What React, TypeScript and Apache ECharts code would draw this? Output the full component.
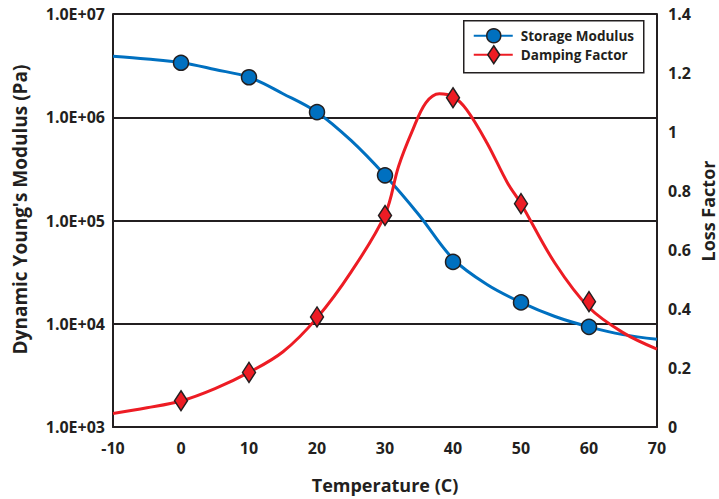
import React, { useEffect, useRef } from "react";
import * as echarts from "echarts";

// Measured points (markers)
const markerTemps = [0, 10, 20, 30, 40, 50, 60];
const storageModulus = [3.37e6, 2.44e6, 1.12e6, 2.74e5, 3.97e4, 1.61e4, 9.33e3];
const dampingFactor = [0.089, 0.185, 0.373, 0.717, 1.116, 0.757, 0.425];

// Fitted curves
const modulusCurveTemps = [-10, -5, 0, 5, 10, 15, 20, 25, 30, 35, 40, 45, 50, 55, 60, 65, 70];
const modulusCurve = [3.9e6, 3.67e6, 3.39e6, 2.9e6, 2.44e6, 1.69e6, 1.12e6, 5.96e5, 2.74e5, 1.13e5, 4.25e4, 2.4e4, 1.61e4, 1.175e4, 9.33e3, 7.85e3, 7.08e3];
const dampingCurveTemps = [-10, -5, 0, 5, 10, 15, 20, 25, 30, 32, 34, 36, 38, 40, 42, 45, 48, 50, 55, 60, 65, 70];
const dampingCurve = [0.046, 0.065, 0.088, 0.13, 0.185, 0.255, 0.37, 0.525, 0.72, 0.884, 1.003, 1.099, 1.13, 1.12, 1.076, 0.963, 0.828, 0.757, 0.555, 0.405, 0.32, 0.264];

const modulusTickLabels = ["1.0E+03", "1.0E+04", "1.0E+05", "1.0E+06", "1.0E+07"];

const INK = "#231f20";
const BLUE = "#0070c0";
const RED = "#ed1c24";
const FONT = "Open Sans";

export default function App() {
  const ref = useRef<HTMLDivElement>(null);
  useEffect(() => {
    if (!ref.current) return;
    const chart = echarts.init(ref.current, null, { renderer: "svg" });
    const labelStyle = { color: INK, fontFamily: FONT, fontWeight: "bold" as const, fontSize: 16 };
    const titleStyle = { ...labelStyle, fontSize: 18 };
    chart.setOption({
      animation: false,
      backgroundColor: "#ffffff",
      grid: { left: 113, right: 62, top: 14, bottom: 71, containLabel: false },
      xAxis: {
        type: "value",
        min: -10,
        max: 70,
        interval: 10,
        axisLine: { show: true, onZero: false, lineStyle: { color: INK, width: 2 } },
        axisTick: { show: false },
        splitLine: { show: false },
        axisLabel: { ...labelStyle, margin: 13 },
        name: "Temperature (C)",
        nameLocation: "middle",
        nameGap: 49,
        nameTextStyle: { ...titleStyle },
      },
      yAxis: [
        {
          type: "log",
          logBase: 10,
          min: 1e3,
          max: 1e7,
          axisLine: { show: true, onZero: false, lineStyle: { color: INK, width: 2 } },
          axisTick: { show: false },
          splitLine: { show: true, lineStyle: { color: INK, width: 2 } },
          axisLabel: {
            ...labelStyle,
            margin: 8,
            formatter: (v: number) => modulusTickLabels[Math.round(Math.log10(v)) - 3] ?? "",
          },
          name: "Dynamic Young's Modulus (Pa)",
          nameLocation: "middle",
          nameGap: 84,
          nameRotate: 90,
          nameTextStyle: { ...titleStyle, fontSize: 19, padding: [0, 0, 0, 22] },
        },
        {
          type: "value",
          position: "right",
          min: 0,
          max: 1.4,
          interval: 0.2,
          axisLine: { show: true, onZero: false, lineStyle: { color: INK, width: 2 } },
          axisTick: { show: false },
          splitLine: { show: false },
          axisLabel: { ...labelStyle, margin: 11 },
        },
      ],
      graphic: [
        {
          type: "text",
          x: 708,
          y: 211,
          rotation: Math.PI / 2,
          style: { text: "Loss Factor", ...titleStyle, fill: INK, align: "center", verticalAlign: "middle" },
        },
        {
          type: "group",
          left: 463,
          top: 20,
          children: [
            { type: "rect", shape: { x: 0, y: 0, width: 180, height: 52 }, style: { fill: "#fff", stroke: INK, lineWidth: 1.5 } },
            { type: "line", shape: { x1: 10, y1: 15, x2: 49, y2: 15 }, style: { stroke: BLUE, lineWidth: 2 } },
            { type: "circle", shape: { cx: 30, cy: 15, r: 7 }, style: { fill: BLUE, stroke: INK, lineWidth: 1.5 } },
            { type: "text", x: 57, y: 15, style: { text: "Storage Modulus", fill: INK, fontFamily: FONT, fontWeight: "bold", fontSize: 13.5, verticalAlign: "middle" } },
            { type: "line", shape: { x1: 10, y1: 34, x2: 49, y2: 34 }, style: { stroke: RED, lineWidth: 2 } },
            { type: "polygon", shape: { points: [[30, 25], [36, 34], [30, 43], [24, 34]] }, style: { fill: RED, stroke: INK, lineWidth: 1.5 } },
            { type: "text", x: 57, y: 34, style: { text: "Damping Factor", fill: INK, fontFamily: FONT, fontWeight: "bold", fontSize: 13.5, verticalAlign: "middle" } },
          ],
        },
      ],
      series: [
        {
          name: "Storage Modulus curve",
          type: "line",
          yAxisIndex: 0,
          smooth: 0.35,
          showSymbol: false,
          symbol: "none",
          lineStyle: { color: BLUE, width: 3 },
          data: modulusCurveTemps.map((t, i) => [t, modulusCurve[i]]),
          z: 2,
        },
        {
          name: "Damping Factor curve",
          type: "line",
          yAxisIndex: 1,
          smooth: 0.35,
          showSymbol: false,
          symbol: "none",
          lineStyle: { color: RED, width: 3 },
          data: dampingCurveTemps.map((t, i) => [t, dampingCurve[i]]),
          z: 2,
        },
        {
          name: "Storage Modulus",
          type: "scatter",
          yAxisIndex: 0,
          symbol: "circle",
          symbolSize: 15,
          itemStyle: { color: BLUE, borderColor: INK, borderWidth: 1.5, opacity: 1 },
          data: markerTemps.map((t, i) => [t, storageModulus[i]]),
          z: 3,
        },
        {
          name: "Damping Factor",
          type: "scatter",
          yAxisIndex: 1,
          symbol: "diamond",
          symbolSize: [13, 20],
          itemStyle: { color: RED, borderColor: INK, borderWidth: 1.5, opacity: 1 },
          data: markerTemps.map((t, i) => [t, dampingFactor[i]]),
          z: 3,
        },
      ],
    });
    return () => chart.dispose();
  }, []);
  return <div ref={ref} style={{ position: "fixed", left: 0, top: 0, width: 719, height: 499 }} />;
}
